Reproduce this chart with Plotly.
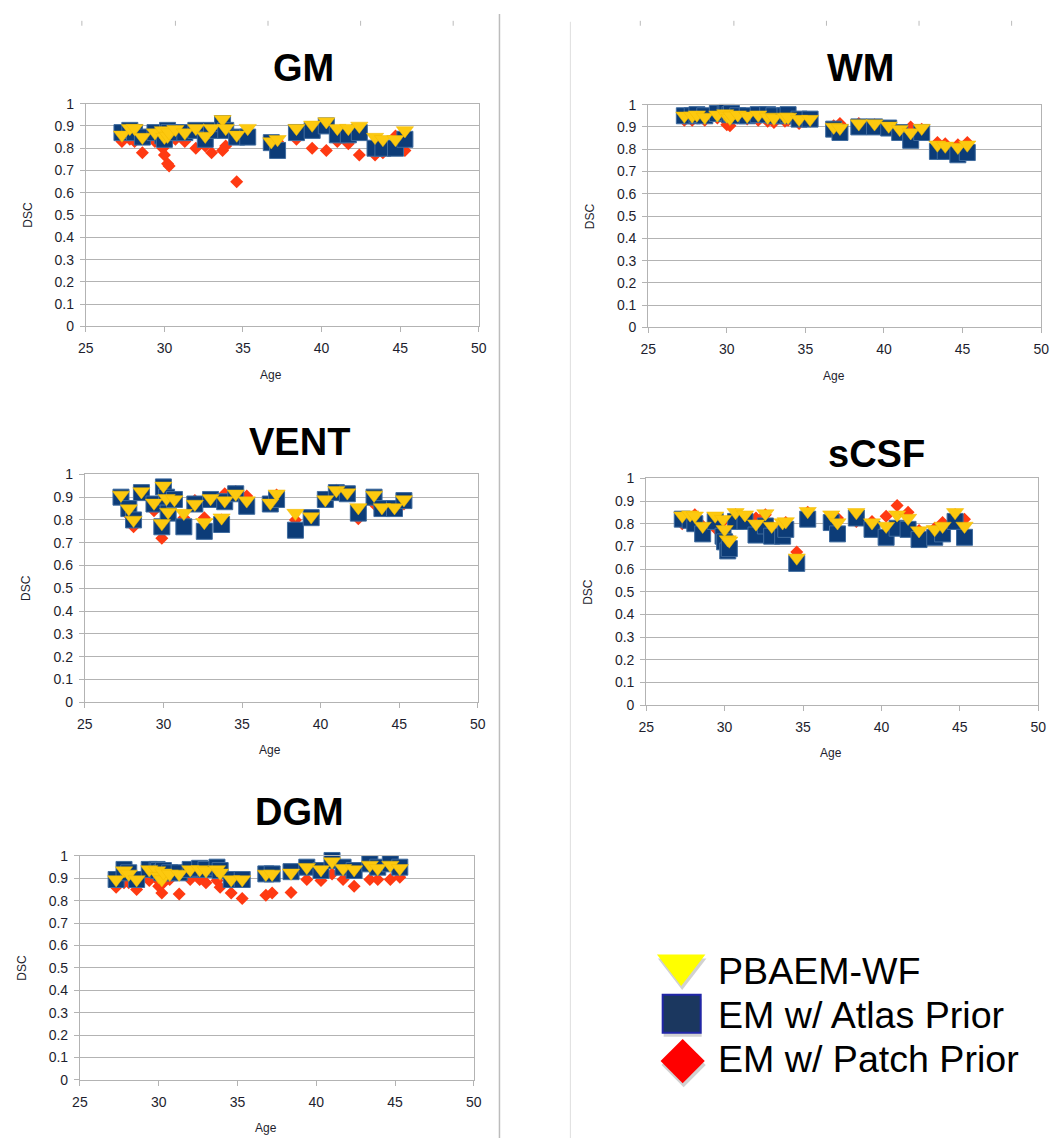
import plotly.graph_objects as go

W, H = 1060, 1146


def px(x):
    return x / W


def py(y):
    return 1 - y / H


# ---------------- data ----------------
ages = [27.3, 27.8, 28.1, 28.6, 29.4, 29.9, 30.0, 30.2, 30.3, 30.7, 31.3, 32.0, 32.6, 33.0, 33.7,
        33.9, 34.6, 35.3, 36.8, 37.2, 38.4, 39.4, 40.3, 41.0, 41.7, 42.4, 43.4, 43.9, 44.7, 45.3]

gm_pbaem = [0.86, 0.89, 0.89, 0.85, 0.87, 0.88, 0.85, 0.855, 0.87, 0.885, 0.87, 0.89, 0.855, 0.89, 0.93,
            0.89, 0.86, 0.89, 0.83, 0.84, 0.89, 0.905, 0.92, 0.89, 0.89, 0.90, 0.85, 0.84, 0.84, 0.88]
gm_atlas = [0.87, 0.88, 0.87, 0.85, 0.87, 0.855, 0.84, 0.88, 0.87, 0.87, 0.87, 0.88, 0.84, 0.88, 0.91,
            0.88, 0.85, 0.85, 0.825, 0.79, 0.87, 0.88, 0.90, 0.86, 0.86, 0.87, 0.80, 0.80, 0.80, 0.84]
gm_patch = [0.83, 0.84, 0.83, 0.78, 0.83, 0.80, 0.77, 0.73, 0.72, 0.84, 0.83, 0.80, 0.81, 0.78, 0.79,
            0.81, 0.65, 0.85, 0.82, 0.83, 0.84, 0.80, 0.79, 0.83, 0.82, 0.77, 0.77, 0.78, 0.855, 0.79]

wm_pbaem = [0.95, 0.95, 0.955, 0.945, 0.955, 0.96, 0.95, 0.94, 0.95, 0.955, 0.95, 0.955, 0.945, 0.94, 0.945,
            0.945, 0.935, 0.935, 0.90, 0.895, 0.915, 0.915, 0.905, 0.89, 0.875, 0.895, 0.82, 0.815, 0.81, 0.82]
wm_atlas = [0.95, 0.95, 0.955, 0.95, 0.96, 0.96, 0.965, 0.955, 0.96, 0.95, 0.95, 0.955, 0.955, 0.95, 0.95,
            0.955, 0.935, 0.935, 0.89, 0.875, 0.90, 0.90, 0.895, 0.875, 0.84, 0.875, 0.79, 0.79, 0.775, 0.785]
wm_patch = [0.93, 0.93, 0.94, 0.93, 0.94, 0.93, 0.91, 0.905, 0.94, 0.94, 0.935, 0.93, 0.925, 0.92, 0.925,
            0.93, 0.915, 0.925, 0.905, 0.915, 0.915, 0.91, 0.90, 0.88, 0.90, 0.89, 0.83, 0.825, 0.82, 0.83]

vent_pbaem = [0.91, 0.85, 0.80, 0.925, 0.875, 0.785, 0.95, 0.895, 0.835, 0.89, 0.83, 0.87, 0.79, 0.895, 0.81,
              0.885, 0.915, 0.885, 0.875, 0.915, 0.83, 0.815, 0.89, 0.93, 0.92, 0.855, 0.91, 0.855, 0.855, 0.89]
vent_atlas = [0.90, 0.85, 0.80, 0.92, 0.87, 0.77, 0.945, 0.90, 0.83, 0.89, 0.77, 0.87, 0.75, 0.89, 0.78,
              0.88, 0.915, 0.86, 0.87, 0.89, 0.755, 0.81, 0.89, 0.92, 0.915, 0.83, 0.90, 0.85, 0.85, 0.885]
vent_patch = [0.89, 0.82, 0.77, 0.915, 0.84, 0.72, 0.93, 0.88, 0.82, 0.90, 0.81, 0.885, 0.81, 0.89, 0.80,
              0.915, 0.925, 0.905, 0.88, 0.91, 0.80, 0.805, 0.90, 0.93, 0.915, 0.805, 0.87, 0.855, 0.845, 0.87]

scsf_pbaem = [0.835, 0.84, 0.835, 0.79, 0.835, 0.82, 0.775, 0.73, 0.725, 0.85, 0.84, 0.80, 0.845, 0.79, 0.805,
              0.81, 0.65, 0.855, 0.84, 0.805, 0.85, 0.805, 0.79, 0.84, 0.825, 0.77, 0.775, 0.79, 0.85, 0.79]
scsf_atlas = [0.82, 0.815, 0.80, 0.755, 0.81, 0.745, 0.72, 0.68, 0.69, 0.81, 0.81, 0.75, 0.79, 0.745, 0.745,
              0.775, 0.625, 0.82, 0.805, 0.755, 0.825, 0.775, 0.74, 0.78, 0.775, 0.73, 0.74, 0.755, 0.81, 0.74]
scsf_patch = [0.80, 0.81, 0.84, 0.79, 0.78, 0.81, 0.76, 0.745, 0.73, 0.84, 0.825, 0.825, 0.84, 0.79, 0.78,
              0.805, 0.675, 0.85, 0.825, 0.825, 0.81, 0.81, 0.833, 0.88, 0.85, 0.77, 0.78, 0.805, 0.84, 0.82]

dgm_pbaem = [0.895, 0.935, 0.92, 0.895, 0.94, 0.935, 0.91, 0.895, 0.925, 0.92, 0.92, 0.94, 0.94, 0.935, 0.94,
             0.925, 0.895, 0.895, 0.92, 0.92, 0.925, 0.95, 0.94, 0.975, 0.945, 0.94, 0.96, 0.945, 0.96, 0.945]
dgm_atlas = [0.895, 0.94, 0.925, 0.895, 0.94, 0.94, 0.935, 0.925, 0.935, 0.925, 0.925, 0.94, 0.945, 0.94, 0.95,
             0.935, 0.895, 0.895, 0.92, 0.92, 0.93, 0.95, 0.935, 0.98, 0.95, 0.935, 0.965, 0.95, 0.965, 0.95]
dgm_patch = [0.86, 0.88, 0.88, 0.85, 0.89, 0.895, 0.865, 0.835, 0.88, 0.895, 0.83, 0.895, 0.895, 0.88, 0.89,
             0.86, 0.835, 0.81, 0.825, 0.835, 0.837, 0.895, 0.89, 0.92, 0.895, 0.865, 0.895, 0.895, 0.895, 0.905]

x_ticks = [25, 30, 35, 40, 45, 50]
y_ticks = [0, 0.1, 0.2, 0.3, 0.4, 0.5, 0.6, 0.7, 0.8, 0.9, 1]
y_tick_text = ["0", "0.1", "0.2", "0.3", "0.4", "0.5", "0.6", "0.7", "0.8", "0.9", "1"]
series_names = ["EM w/ Patch Prior", "EM w/ Atlas Prior", "PBAEM-WF"]

# ---------------- layout of panels (pixel boxes) ----------------
panels = [
    dict(title="GM", data=(gm_patch, gm_atlas, gm_pbaem), box=(79, 478, 97, 323), title_xy=(300, 61)),
    dict(title="WM", data=(wm_patch, wm_atlas, wm_pbaem), box=(650, 1049, 98, 324), title_xy=(866, 61)),
    dict(title="VENT", data=(vent_patch, vent_atlas, vent_pbaem), box=(78, 477, 473, 704), title_xy=(296, 440)),
    dict(title="sCSF", data=(scsf_patch, scsf_atlas, scsf_pbaem), box=(648, 1046, 477, 707), title_xy=(882, 452)),
    dict(title="DGM", data=(dgm_patch, dgm_atlas, dgm_pbaem), box=(73, 473, 860, 1087), title_xy=(296, 815)),
]

GRID = "#b3b3b3"
TICKC = "#1e1e2e"
FONT = "Liberation Sans, Arial, sans-serif"

styles = [
    dict(symbol="diamond", size=10, color="#ff3a12", line=dict(width=0)),
    dict(symbol="square", size=16, color="#0c3c78", line=dict(width=1, color="#3f6b9e")),
    dict(symbol="triangle-down", size=15, color="#fdc90f", line=dict(width=0.5, color="#f0b800")),
]

fig = go.Figure()
layout = dict(
    width=W, height=H, autosize=False, margin=dict(l=0, r=0, t=0, b=0, pad=0),
    paper_bgcolor="white", plot_bgcolor="rgba(0,0,0,0)", showlegend=False,
    font=dict(family=FONT, color=TICKC),
)
annotations = []
shapes = []

for i, p in enumerate(panels):
    n = "" if i == 0 else str(i + 1)
    xa, ya = "x" + n, "y" + n
    l, r, t, b = p["box"]
    layout["xaxis" + n] = dict(
        domain=[px(l), px(r)], range=[25, 50], anchor=ya,
        tickvals=x_ticks, showgrid=False, zeroline=False,
        showline=True, linecolor=GRID, linewidth=1, mirror=True,
        ticks="outside", ticklen=5, tickcolor=GRID,
        tickfont=dict(size=14, color=TICKC, family=FONT), ticklabelstandoff=4,
    )
    layout["yaxis" + n] = dict(
        domain=[py(b), py(t)], range=[0, 1], anchor=xa,
        tickvals=y_ticks, ticktext=y_tick_text, showgrid=True, gridcolor=GRID, gridwidth=1,
        zeroline=False, showline=True, linecolor=GRID, linewidth=1, mirror=True,
        ticks="outside", ticklen=5, tickcolor=GRID,
        tickfont=dict(size=14, color=TICKC, family=FONT), ticklabelstandoff=3,
    )
    for vals, st, nm in zip(p["data"], styles, series_names):
        fig.add_trace(go.Scatter(x=ages, y=vals, mode="markers", name=nm, xaxis=xa, yaxis=ya,
                                 marker=st, hoverinfo="x+y+name", cliponaxis=False))
    tx, ty = p["title_xy"]
    annotations.append(dict(text="<b>%s</b>" % p["title"], x=px(tx), y=py(ty), xref="paper", yref="paper",
                            showarrow=False, xanchor="center", yanchor="middle",
                            font=dict(size=38, color="black", family=FONT)))
    annotations.append(dict(text="Age", x=px((l + r) / 2 - 11), y=py(b + 49), xref="paper", yref="paper",
                            showarrow=False, xanchor="center", yanchor="middle",
                            font=dict(size=12, color=TICKC, family=FONT)))
    annotations.append(dict(text="DSC", x=px(l - 59), y=py((t + b) / 2), xref="paper", yref="paper",
                            showarrow=False, xanchor="center", yanchor="middle", textangle=-90,
                            font=dict(size=12, color=TICKC, family=FONT)))

# ---------------- custom legend (key glyphs), own small hidden axes ----------------
LX0, LX1, LY0, LY1 = 640, 760, 940, 1110
layout["xaxis6"] = dict(domain=[px(LX0), px(LX1)], range=[LX0, LX1], visible=False, fixedrange=True, anchor="y6")
layout["yaxis6"] = dict(domain=[py(LY1), py(LY0)], range=[LY1, LY0], visible=False, fixedrange=True, anchor="x6")
legend_items = [
    ("PBAEM-WF", dict(symbol="triangle-down", size=42, color="#ffff00", line=dict(width=0)), 683.5, 970.5, 977),
    ("EM w/ Atlas Prior", dict(symbol="square", size=38, color="#1b375f", line=dict(width=2, color="#2126a8")), 684, 1020, 1021),
    ("EM w/ Patch Prior", dict(symbol="diamond", size=34, color="#ff0000", line=dict(width=0)), 685, 1068, 1066),
]
for label, mk, cx, cy, ty in legend_items:
    shadow = dict(mk)
    shadow["color"] = "rgba(0,0,0,0.18)"
    shadow["line"] = dict(width=0)
    fig.add_trace(go.Scatter(x=[cx + 1], y=[cy + 4], mode="markers", marker=shadow,
                             xaxis="x6", yaxis="y6", hoverinfo="skip", cliponaxis=False))
    fig.add_trace(go.Scatter(x=[cx], y=[cy], mode="markers", marker=mk, name=label,
                             xaxis="x6", yaxis="y6", hoverinfo="name", cliponaxis=False))
    annotations.append(dict(text=label, x=px(719), y=py(ty), xref="paper", yref="paper", showarrow=False,
                            xanchor="left", yanchor="middle",
                            font=dict(size=37.6, color="black", family=FONT)))

# ---------------- page decorations ----------------
shapes.append(dict(type="line", xref="paper", yref="paper", x0=px(499), x1=px(499), y0=py(6), y1=0,
                   line=dict(color="#bcbcbc", width=1.5), layer="below"))
shapes.append(dict(type="line", xref="paper", yref="paper", x0=px(571), x1=px(571), y0=py(14), y1=0,
                   line=dict(color="#dedede", width=1), layer="below"))
for xt in [75, 170, 264, 358, 452, 642, 737, 831, 925, 1019]:
    shapes.append(dict(type="line", xref="paper", yref="paper", x0=px(xt), x1=px(xt), y0=py(13), y1=py(18),
                       line=dict(color="#bbbbbb", width=1), layer="below"))

layout["annotations"] = annotations
layout["shapes"] = shapes
fig.update_layout(**layout)

POST = """
document.documentElement.style.margin='0';
document.documentElement.style.padding='0';
document.body.style.margin='0';
document.body.style.padding='0';
document.documentElement.style.overflow='hidden';
document.body.style.overflow='hidden';
"""

fig.write_html("out.html", config={"displayModeBar": False, "responsive": False},
               default_width="1060px", default_height="1146px", post_script=POST)
